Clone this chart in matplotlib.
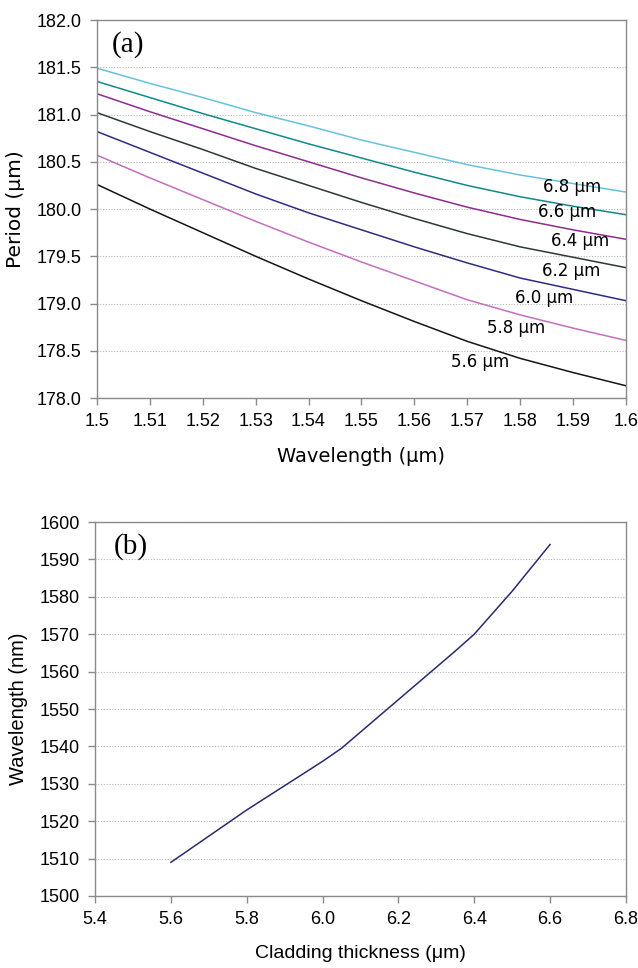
import matplotlib
matplotlib.use("Agg")
import matplotlib.pyplot as plt

# ---- panel (a): period vs wavelength for each cladding thickness ----
wl_a = [1.5, 1.51, 1.52, 1.53, 1.54, 1.55, 1.56, 1.57, 1.58, 1.59, 1.6]
period_56 = [180.26, 180.00, 179.75, 179.50, 179.26, 179.03, 178.81, 178.60, 178.42, 178.27, 178.13]
period_58 = [180.57, 180.33, 180.10, 179.87, 179.65, 179.44, 179.24, 179.04, 178.88, 178.74, 178.61]
period_60 = [180.82, 180.60, 180.38, 180.16, 179.96, 179.78, 179.60, 179.43, 179.27, 179.15, 179.03]
period_62 = [181.02, 180.82, 180.63, 180.43, 180.25, 180.07, 179.90, 179.74, 179.60, 179.49, 179.38]
period_64 = [181.22, 181.03, 180.85, 180.67, 180.50, 180.33, 180.17, 180.02, 179.89, 179.78, 179.68]
period_66 = [181.35, 181.18, 181.01, 180.85, 180.69, 180.54, 180.39, 180.25, 180.13, 180.03, 179.94]
period_68 = [181.49, 181.33, 181.18, 181.02, 180.88, 180.73, 180.60, 180.47, 180.36, 180.27, 180.18]

curve_names = ["5.6 μm", "5.8 μm", "6.0 μm", "6.2 μm", "6.4 μm", "6.6 μm", "6.8 μm"]
curve_data = [period_56, period_58, period_60, period_62, period_64, period_66, period_68]
curve_colors = ["#151515", "#C46EBD", "#2E2C82", "#2B3A33", "#8E2C8E", "#10898A", "#66C2DC"]
# label anchors (left x, centre y) in data units
label_x = [1.567, 1.5738, 1.579, 1.5841, 1.5858, 1.5834, 1.5843]
label_y = [178.38, 178.74, 179.06, 179.34, 179.66, 179.97, 180.23]

xticks_a = [1.5, 1.51, 1.52, 1.53, 1.54, 1.55, 1.56, 1.57, 1.58, 1.59, 1.6]
yticks_a = [178.0, 178.5, 179.0, 179.5, 180.0, 180.5, 181.0, 181.5, 182.0]

# ---- panel (b): resonance wavelength vs cladding thickness ----
clad = [5.6, 5.8, 6.0, 6.05, 6.2, 6.35, 6.4, 6.5, 6.6]
wl_b = [1509, 1523, 1536, 1539.5, 1552.5, 1565.5, 1570, 1581.5, 1594]
xticks_b = [5.4, 5.6, 5.8, 6.0, 6.2, 6.4, 6.6, 6.8]
yticks_b = list(range(1500, 1601, 10))

SANS = "Liberation Sans"
ROUND = "DejaVu Sans"
SERIF = "Liberation Serif"
SPINE = "#8a8a8a"

fig = plt.figure(figsize=(6.38, 9.68), dpi=100)


def style_axes(ax):
    for s in ax.spines.values():
        s.set_color(SPINE)
        s.set_linewidth(1.0)
    ax.tick_params(direction="out", length=5, width=1.0, color=SPINE,
                   labelsize=13, pad=6)
    for lab in ax.get_xticklabels() + ax.get_yticklabels():
        lab.set_fontfamily(SANS)
    ax.yaxis.grid(True, linestyle=(0, (1, 1.5)), color="#b5b5b5", linewidth=0.8)
    ax.xaxis.grid(False)
    ax.set_axisbelow(True)


# panel (a)
ax1 = fig.add_axes([0.152, 0.5888, 0.829, 0.3905])
for data, col in zip(curve_data, curve_colors):
    ax1.plot(wl_a, data, color=col, linewidth=1.1)
for name, lx, ly in zip(curve_names, label_x, label_y):
    ax1.text(lx, ly, name, fontsize=12, family=ROUND, ha="left", va="center")
ax1.set_xlim(1.5, 1.6)
ax1.set_ylim(178.0, 182.0)
ax1.set_xticks(xticks_a)
ax1.set_xticklabels([f"{v:g}" for v in xticks_a])
ax1.set_yticks(yticks_a)
ax1.set_yticklabels([f"{v:.1f}" for v in yticks_a])
style_axes(ax1)
ax1.set_xlabel("Wavelength (μm)", family=ROUND, fontsize=14, labelpad=12)
ax1.set_ylabel("Period (μm)", family=ROUND, fontsize=14.5, labelpad=8)
ax1.text(0.028, 0.935, "(a)", transform=ax1.transAxes, family=SERIF,
         fontsize=21, ha="left", va="center")

# panel (b)
ax2 = fig.add_axes([0.149, 0.0744, 0.832, 0.3863])
ax2.plot(clad, wl_b, color="#2A2A6E", linewidth=1.1)
ax2.set_xlim(5.4, 6.8)
ax2.set_ylim(1500, 1600)
ax2.set_xticks(xticks_b)
ax2.set_xticklabels([f"{v:.1f}" for v in xticks_b])
ax2.set_yticks(yticks_b)
ax2.set_yticklabels([str(v) for v in yticks_b])
style_axes(ax2)
ax2.set_xlabel("Cladding thickness (μm)", family=SANS, fontsize=14, labelpad=12)
ax2.set_ylabel("Wavelength (nm)", family=SANS, fontsize=14.5, labelpad=8)
ax2.text(0.035, 0.935, "(b)", transform=ax2.transAxes, family=SERIF,
         fontsize=21, ha="left", va="center")

fig.savefig("out.png", dpi=100, facecolor="white")
